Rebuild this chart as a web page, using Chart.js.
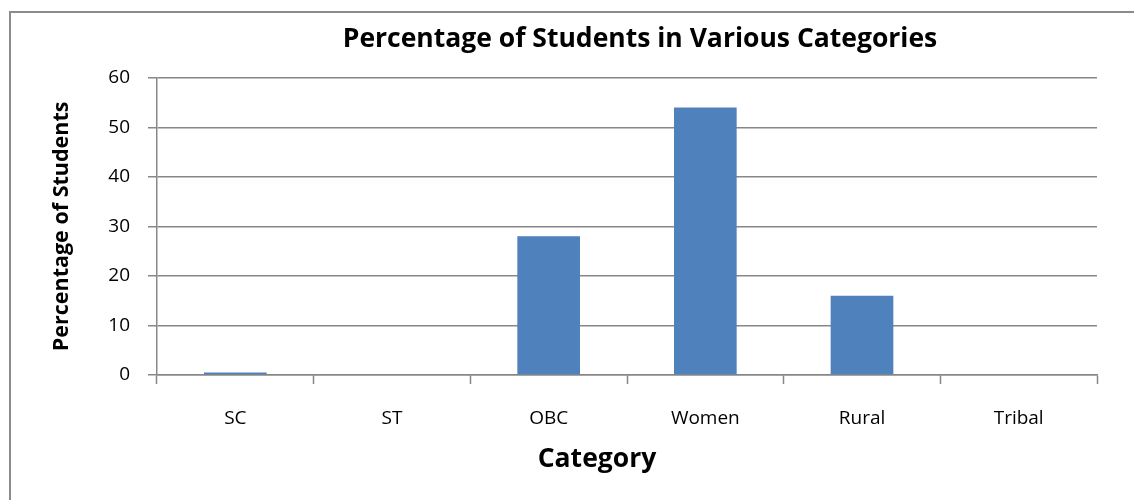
<!DOCTYPE html>
<html>
<head>
<meta charset="utf-8">
<script src="https://cdn.jsdelivr.net/npm/chart.js@4"></script>
<style>
  html, body { margin: 0; padding: 0; background: #fff; overflow: hidden; }
  #wrap { position: relative; width: 1134px; height: 500px; }
  #frame { position: absolute; left: 9px; top: 11px; width: 2000px; height: 1000px;
           border-left: 2px solid #8c8c8c; border-top: 2px solid #8c8c8c; }
  canvas { position: absolute; left: 0; top: 0; }
</style>
</head>
<body>
<div id="wrap">
  <div id="frame"></div>
  <canvas id="chart" width="1134" height="500"></canvas>
</div>
<script>
// Data
const categories = ['SC', 'ST', 'OBC', 'Women', 'Rural', 'Tribal'];
const percentages = [0.5, 0, 28, 54, 16, 0];
const yTicks = [0, 10, 20, 30, 40, 50, 60];

const FONT = '"Open Sans", sans-serif';
const GRID = '#878787';

// move the title so it sits over the plot like the original
const titleShift = {
    id: 'titleShift',
    afterLayout(chart) {
        const t = chart.titleBlock;
        if (t) { t.left = 146; t.right = 1134; }
    }
};

// x axis title sits a bit left of the plot centre in the original
const xTitle = {
    id: 'xTitle',
    afterDraw(chart) {
        const c = chart.ctx;
        const area = chart.chartArea;
        c.save();
        c.fillStyle = '#000';
        c.font = 'bold 26.5px ' + FONT;
        c.textAlign = 'center';
        c.textBaseline = 'middle';
        c.fillText('Category', (area.left + area.right) / 2 - 30, chart.height - 41);
        c.restore();
    }
};

const ctx = document.getElementById('chart').getContext('2d');
new Chart(ctx, {
    type: 'bar',
    data: {
        labels: categories,
        datasets: [{
            label: 'Percentage of Students',
            data: percentages,
            backgroundColor: '#4f81bd',
            borderWidth: 0,
            barPercentage: 0.4,
            categoryPercentage: 1
        }]
    },
    plugins: [titleShift, xTitle],
    options: {
        responsive: false,
        animation: false,
        layout: { padding: { left: 0, right: 37, top: 0, bottom: 0 } },
        plugins: {
            legend: { display: false },
            tooltip: { enabled: false },
            title: {
                display: true,
                text: 'Percentage of Students in Various Categories',
                color: '#000',
                font: { family: FONT, size: 26.5, weight: 'bold' },
                padding: { top: 24, bottom: 22 }
            }
        },
        scales: {
            x: {
                offset: true,
                grid: { offset: true, drawOnChartArea: false, color: GRID, tickLength: 9, tickWidth: 1.5 },
                border: { color: GRID, width: 1.5 },
                ticks: { color: '#000', font: { family: FONT, size: 19 }, padding: 23, maxRotation: 0 },
                title: { display: false },
                afterFit(scale) { scale.height = 125; }
            },
            y: {
                min: 0,
                max: 60,
                afterBuildTicks(scale) { scale.ticks = yTicks.map(v => ({ value: v })); },
                grid: { color: GRID, tickLength: 9, lineWidth: 1.5 },
                border: { color: GRID, width: 1.5 },
                ticks: { color: '#000', font: { family: FONT, size: 19 }, padding: 18 },
                title: {
                    display: true,
                    text: 'Percentage of Students',
                    color: '#000',
                    font: { family: FONT, size: 21.5, weight: 'bold' },
                    padding: { top: 49, bottom: 0 }
                },
                afterFit(scale) { scale.width = 157; }
            }
        }
    }
});
</script>
</body>
</html>
